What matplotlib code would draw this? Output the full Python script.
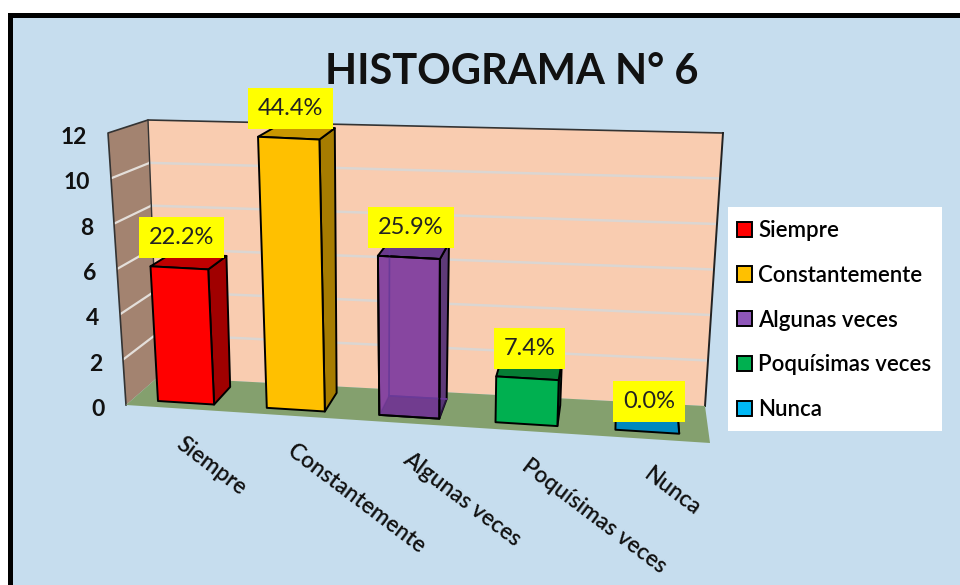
import numpy as np
import matplotlib
matplotlib.use("Agg")
import matplotlib.pyplot as plt
from matplotlib.patches import Polygon, Rectangle, Patch

categorias = ["Siempre", "Constantemente", "Algunas veces", "Poquísimas veces", "Nunca"]
valores = [6, 12, 7, 2, 0]
porcentajes = ["22.2%", "44.4%", "25.9%", "7.4%", "0.0%"]
ticks = [0, 2, 4, 6, 8, 10, 12]
titulo = "HISTOGRAMA N° 6"

color_frente = ["#FF0000", "#FFC000", "#8746A0", "#00B050", "#0088BE"]
color_lado = ["#A00000", "#A67C00", "#5E3A78", "#007A38", "#005F85"]
color_tapa = ["#C00000", "#C99700", "#6A3A8C", "#067D35", "#0088BE"]
color_leyenda = ["#FF0000", "#FFC000", "#8E56B8", "#00B050", "#00B8F5"]

plt.rcParams["font.family"] = ["Lato", "DejaVu Sans"]

fig = plt.figure(figsize=(9.6, 5.85), dpi=100)
ax = fig.add_axes([0, 0, 1, 1])
ax.set_xlim(0, 960)
ax.set_ylim(585, 0)
ax.axis("off")

# marco
ax.add_patch(Rectangle((10, 14.5), 1000, 640, fc="#C6DDEE", ec="black", lw=3.6, zorder=0))

# esquinas de la caja 3D en pixeles: frente izq, frente der, fondo der, fondo izq
suelo = np.array([(126, 405), (710, 443), (705, 406), (158, 377)], float)
techo = np.array([(108, 133), (726, 164), (723, 133), (148, 120)], float)
N = len(categorias)
VMAX = ticks[-1]


def bilineal(c, s, w):
    frente = (1 - s) * c[0] + s * c[1]
    fondo = (1 - s) * c[3] + s * c[2]
    return (1 - w) * frente + w * fondo


def P(cat, v, w):
    # cat: posicion de categoria, v: valor, w: profundidad (0 frente, 1 fondo)
    u = cat / N
    s = u - 0.08 * u * (1 - u)  # las categorias crecen hacia la derecha
    t = v / VMAX
    return (1 - t) * bilineal(suelo, s, w) + t * bilineal(techo, s, w)


def poli(puntos, fc, ec="black", lw=1.4, z=2, **kw):
    ax.add_patch(Polygon(np.array(puntos), closed=True, fc=fc, ec=ec, lw=lw, zorder=z, joinstyle="round", **kw))


# paredes y suelo
poli([P(0, 0, 1), P(N, 0, 1), P(N, VMAX, 1), P(0, VMAX, 1)], "#F9CCB0", ec="none", z=1)
poli([P(0, 0, 0), P(0, 0, 1), P(0, VMAX, 1), P(0, VMAX, 0)], "#A38370", ec="none", z=1)
for v in ticks[1:-1]:
    ax.plot(*np.array([P(0, v, 0), P(0, v, 1)]).T, color="#E4DFDA", lw=1.6, zorder=1.2)
    ax.plot(*np.array([P(0, v, 1), P(N, v, 1)]).T, color="#DBD6D2", lw=1.8, zorder=1.2)
ax.plot(*np.array([P(0, 0, 0), P(0, VMAX, 0), P(0, VMAX, 1), P(N, VMAX, 1)]).T, color="#333333", lw=1.2, zorder=1.3)
ax.plot(*np.array([P(0, VMAX, 1), P(0, 0, 1)]).T, color="#333333", lw=1.0, zorder=1.3)
ax.plot(*np.array([P(N, VMAX, 1), P(N, 0, 1)]).T, color="#222222", lw=1.4, zorder=1.3)
poli([P(0, 0, 0), P(N, 0, 0), P(N, 0, 1), P(0, 0, 1)], "#84A06E", ec="none", z=1.5)

# barras
ancho = 0.26
w0, w1 = 0.2, 0.8
for i, v in enumerate(valores):
    a, b = i + 0.5 - ancho, i + 0.5 + ancho
    z = 3 + i
    poli([P(b, 0, w0), P(b, 0, w1), P(b, v, w1), P(b, v, w0)], color_lado[i], z=z)
    poli([P(a, v, w0), P(b, v, w0), P(b, v, w1), P(a, v, w1)], color_tapa[i], z=z)
    if v > 0:
        poli([P(a, 0, w0), P(b, 0, w0), P(b, v, w0), P(a, v, w0)], color_frente[i], z=z)
    if categorias[i] == "Algunas veces":
        # esta barra se ve translucida: aristas de atras y base
        poli([P(a, 0, w0), P(b, 0, w0), P(b, 0, w1), P(a, 0, w1)], "#4A2A70", ec="#5E3090", lw=1.0, z=z, alpha=0.35)
        ax.plot(*np.array([P(a, 0, w1), P(a, v, w1)]).T, color="#6A3A98", lw=1.2, zorder=z)
        ax.plot(*np.array([P(a, 0, w1), P(b, 0, w1)]).T, color="#6A3A98", lw=1.2, zorder=z)
        poli([P(a, 0, w0), P(b, 0, w0), P(b, v, w0), P(a, v, w0)], "none", z=z)

    # etiqueta amarilla
    cx, cy = P(i + 0.5, v, w0)
    ax.text(cx + 2, cy - 30, porcentajes[i], fontsize=17, color="#222222", ha="center", va="center", zorder=20,
            bbox=dict(boxstyle="square,pad=0.42", fc="#FFFF00", ec="none"))

    # categoria
    bx, by = P(i + 0.5, 0, 0)
    ax.text(bx - 1, by + 33, categorias[i], fontsize=16.2, fontweight="semibold", color="#111111", rotation=-37,
            rotation_mode="anchor", ha="left", va="center", zorder=20)

# eje de valores
for v in ticks:
    tx, ty = P(0, v, 0)
    ax.text(tx - 21, ty + 4.5, str(v), fontsize=16.5, fontweight="bold", color="#111111", ha="right", va="center", zorder=20)

ax.text(512, 72, titulo, fontsize=30, fontweight="bold", color="#111111", ha="center", va="center", zorder=20)

# leyenda sobre su recuadro blanco
ax.add_patch(Rectangle((728, 207), 214, 224, fc="white", ec="none", zorder=19))
handles = [Patch(fc=c, ec="black", lw=1.4, label=n) for c, n in zip(color_leyenda, categorias)]
ax.legend(handles=handles, loc="upper left", bbox_to_anchor=(737, 220), bbox_transform=ax.transData,
          frameon=False, prop={"size": 16, "weight": "semibold"}, handlelength=0.68, handleheight=0.68,
          handletextpad=0.27, labelspacing=1.07, borderpad=0, borderaxespad=0).set_zorder(20)

fig.savefig("out.png", dpi=100)
